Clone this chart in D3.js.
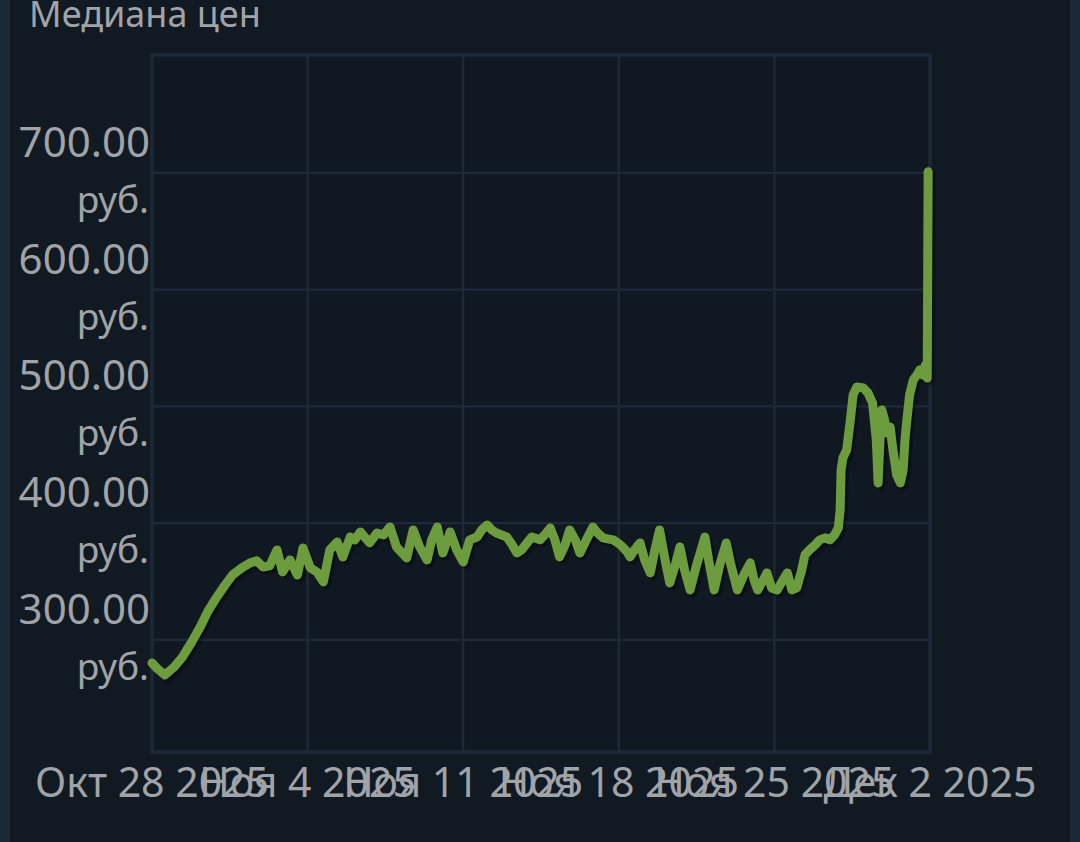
<!DOCTYPE html>
<html>
<head>
<meta charset="utf-8">
<script src="https://cdn.jsdelivr.net/npm/d3@7"></script>
<style>
  html, body { margin: 0; padding: 0; background: #111922; }
  svg { display: block; }
</style>
</head>
<body>
<svg id="chart" width="1080" height="842"></svg>
<script>
// ---- data ----
const title = "Медиана цен";
const startDate = "2025-10-28T00:00:00";
// hours since start
const hours = [0,6,14,24,33,43,52,60,70,79,87,97,106,113,120,127,135,141,149,157,163,171,178,185,192,200,206,214,219,225,235,243,250,257,264,275,282,289,297,302,308,314,322,329,336,343,351,356,362,367,372,383,389,394,399,405,410,419,424,430,435,440,446,451,457,462,469,476,481,487,492,498,503,508,513,516,521,527,532,538,543,548,554,559,565,570,575,581,588,597,601,607,613,620,625,632,639,646,650,654,660,664,669,675,680,686,691,696,701,705,710,716,721,727,732,737,741,743,744,746,750,754,757,761,768,773,778,782,784,786,788,791,793,797,800,804,808,811,813,815,818,822,826,829,832,835,837,838];
const prices = [280.3,275.2,270.0,276.9,285.4,298.3,311.1,324.0,336.8,347.1,355.7,361.7,366.0,367.7,362.5,363.4,377.1,358.2,368.5,355.7,378.8,361.7,358.2,349.7,377.1,383.9,371.1,388.2,385.7,392.5,383.1,391.6,389.9,396.8,379.7,370.2,394.2,379.7,368.5,385.7,396.8,374.5,392.5,377.1,366.8,385.7,388.2,394.2,398.5,394.2,391.6,388.2,381.4,374.5,377.1,383.1,388.2,385.7,389.9,395.9,385.7,371.1,381.4,394.2,385.7,374.5,385.7,396.8,391.6,387.4,386.5,385.7,383.1,379.7,375.4,371.1,377.1,383.1,368.5,357.4,377.1,394.2,368.5,348.8,364.2,379.7,360.0,342.8,364.2,388.2,368.5,342.8,364.2,383.1,364.2,342.8,355.7,366.0,351.4,342.8,351.4,357.4,344.5,342.8,349.7,357.4,342.8,344.5,358.2,372.8,377.1,381.4,385.7,387.4,385.7,389.9,395.9,411.3,445.6,455.9,462.7,488.4,509.9,516.7,515.8,511.6,503.0,471.3,434.5,471.3,497.0,488.4,477.3,482.4,462.7,441.3,434.5,445.6,471.3,488.4,509.9,522.7,527.0,531.3,527.0,535.5,524.4,701.0];
const yTicks = [300, 400, 500, 600, 700];
const yTickUnit = "руб.";
const xTickDates = ["2025-10-28","2025-11-04","2025-11-11","2025-11-18","2025-11-25","2025-12-02"];
const xTickLabels = ["Окт 28 2025","Ноя 4 2025","Ноя 11 2025","Ноя 18 2025","Ноя 25 2025","Дек 2 2025"];
const yDomain = [204, 801];

// ---- drawing ----
const svg = d3.select("#chart");
const W = 1080, H = 842;
const plot = { left: 152, right: 930, top: 55, bottom: 752 };
const textColor = "#a0a4a8";
const gridColor = "#1d2a3a";
const font = "'Noto Sans', 'Open Sans', sans-serif";

svg.append("rect").attr("width", W).attr("height", H).attr("fill", "#111922");
// side strips
svg.append("rect").attr("x", 0).attr("y", 0).attr("width", 10).attr("height", H).attr("fill", "#1b2838");
svg.append("rect").attr("x", 1070).attr("y", 0).attr("width", 10).attr("height", H).attr("fill", "#1b2838");

const t0 = new Date(startDate);
const parseDay = d3.timeParse("%Y-%m-%d");
const data = hours.map((h, i) => ({ t: new Date(t0.getTime() + h * 3600e3), v: prices[i] }));

const x = d3.scaleTime()
  .domain([parseDay(xTickDates[0]), parseDay(xTickDates[xTickDates.length - 1])])
  .range([plot.left, plot.right]);
const y = d3.scaleLinear().domain(yDomain).range([plot.bottom, plot.top]);

// plot background
svg.append("rect")
  .attr("x", plot.left).attr("y", plot.top)
  .attr("width", plot.right - plot.left).attr("height", plot.bottom - plot.top)
  .attr("fill", "#101821");

// grid
const grid = svg.append("g");
grid.selectAll("line.h").data(yTicks).join("line")
  .attr("x1", plot.left).attr("x2", plot.right)
  .attr("y1", d => y(d)).attr("y2", d => y(d))
  .attr("stroke", gridColor).attr("stroke-width", 2.2);
grid.selectAll("line.v").data(xTickDates.slice(1, -1)).join("line")
  .attr("x1", d => x(parseDay(d))).attr("x2", d => x(parseDay(d)))
  .attr("y1", plot.top).attr("y2", plot.bottom)
  .attr("stroke", gridColor).attr("stroke-width", 2.2);

// frame
svg.append("rect")
  .attr("x", plot.left).attr("y", plot.top)
  .attr("width", plot.right - plot.left).attr("height", plot.bottom - plot.top)
  .attr("fill", "none").attr("stroke", "#1c2939").attr("stroke-width", 3.5);

// y labels (two lines)
const yl = svg.append("g").attr("font-family", font)
  .attr("fill", textColor).attr("text-anchor", "end");
yl.selectAll("text.num").data(yTicks).join("text")
  .attr("x", 150).attr("y", d => y(d) - 16).attr("font-size", 42)
  .text(d => d3.format(".2f")(d));
yl.selectAll("text.unit").data(yTicks).join("text")
  .attr("x", 149).attr("y", d => y(d) + 40).attr("font-size", 37)
  .text(yTickUnit);

// x labels
svg.append("g").attr("font-family", font).attr("font-size", 41)
  .attr("fill", textColor).attr("text-anchor", "middle")
  .selectAll("text").data(xTickDates).join("text")
  .attr("x", d => x(parseDay(d))).attr("y", 797)
  .text((d, i) => xTickLabels[i]);

// title
svg.append("text").attr("x", 29).attr("y", 27)
  .attr("font-family", font).attr("font-size", 36).attr("fill", textColor)
  .text(title);

// line with shadow
const line = d3.line().x(d => x(d.t)).y(d => y(d.v)).curve(d3.curveLinear);
const lg = svg.append("g");
[3, 2, 1].forEach(k => {
  lg.append("path").datum(data).attr("d", line)
    .attr("fill", "none").attr("stroke", "rgba(0,0,0,0.14)")
    .attr("stroke-width", 9).attr("stroke-linejoin", "round").attr("stroke-linecap", "round")
    .attr("transform", `translate(${k * 1.2},${k * 1.2})`);
});
lg.append("path").datum(data).attr("d", line)
  .attr("fill", "none").attr("stroke", "#6c9c3e")
  .attr("stroke-width", 9).attr("stroke-linejoin", "round").attr("stroke-linecap", "round");
</script>
</body>
</html>
